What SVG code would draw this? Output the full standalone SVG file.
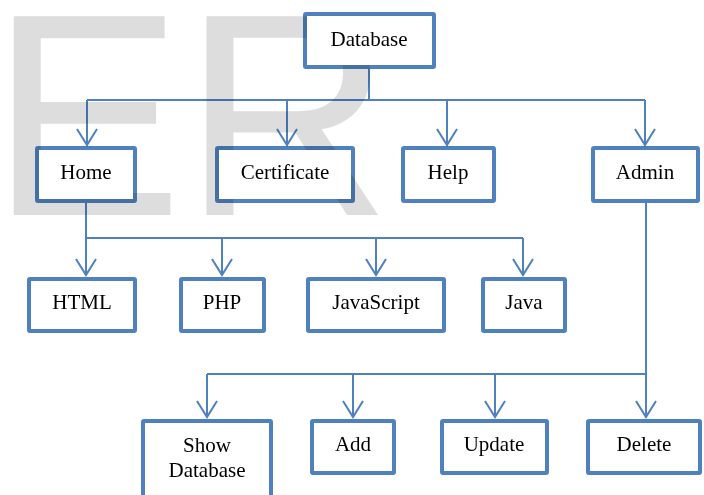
<svg xmlns="http://www.w3.org/2000/svg" width="704" height="495" viewBox="0 0 704 495">
  <defs>
    <style>
      .mark { font-family: "Liberation Sans", Arial, sans-serif; font-size: 289px; fill: #dddddd; }
      .wires { mix-blend-mode: multiply; }
      .wire { fill: none; stroke: #4f81bd; stroke-width: 2; }
      .face { fill: #ffffff; }
      .edge { fill: none; stroke: #4f81bd; stroke-width: 4; mix-blend-mode: multiply; }
      .label { font-family: "Liberation Serif", "Times New Roman", serif; font-size: 21px; fill: #000000; text-anchor: middle; }
    </style>
    <marker id="head" markerUnits="userSpaceOnUse" viewBox="-18 -12 20 24" markerWidth="20" markerHeight="24" refX="0" refY="0" orient="auto">
      <path d="M-16,-10 L0,0 L-16,10" fill="none" stroke="#4f81bd" stroke-width="2"/>
    </marker>
  </defs>

  <rect width="704" height="495" fill="#ffffff"/>

  <!-- background lettering -->
  <text class="mark" x="-10" y="215">ER</text>

  <!-- connectors -->
  <g id="connectors" class="wires">
    <path class="wire" d="M369 69 V100 M87 100 H645"/>
    <path class="wire" d="M87 100 V145" marker-end="url(#head)"/>
    <path class="wire" d="M287 100 V145" marker-end="url(#head)"/>
    <path class="wire" d="M447 100 V145" marker-end="url(#head)"/>
    <path class="wire" d="M645 100 V145" marker-end="url(#head)"/>

    <path class="wire" d="M86 203 V238 H523"/>
    <path class="wire" d="M86 238 V275" marker-end="url(#head)"/>
    <path class="wire" d="M222 238 V275" marker-end="url(#head)"/>
    <path class="wire" d="M376 238 V275" marker-end="url(#head)"/>
    <path class="wire" d="M523 238 V275" marker-end="url(#head)"/>

    <path class="wire" d="M646 203 V374 H207"/>
    <path class="wire" d="M207 374 V417" marker-end="url(#head)"/>
    <path class="wire" d="M353 374 V417" marker-end="url(#head)"/>
    <path class="wire" d="M495 374 V417" marker-end="url(#head)"/>
    <path class="wire" d="M646 374 V417" marker-end="url(#head)"/>
  </g>

  <!-- top -->
  <g id="database">
    <rect class="face" x="307" y="16" width="125" height="49"/>
    <rect class="edge" x="305" y="14" width="129" height="53" rx="1"/>
    <text class="label" x="369" y="46">Database</text>
  </g>

  <!-- first level -->
  <g id="home">
    <rect class="face" x="39" y="150" width="94" height="49"/>
    <rect class="edge" x="37" y="148" width="98" height="53" rx="1"/>
    <text class="label" x="86" y="179">Home</text>
  </g>
  <g id="certificate">
    <rect class="face" x="219" y="150" width="132" height="49"/>
    <rect class="edge" x="217" y="148" width="136" height="53" rx="1"/>
    <text class="label" x="285" y="179">Certificate</text>
  </g>
  <g id="help">
    <rect class="face" x="405" y="150" width="87" height="49"/>
    <rect class="edge" x="403" y="148" width="91" height="53" rx="1"/>
    <text class="label" x="448" y="179">Help</text>
  </g>
  <g id="admin">
    <rect class="face" x="595" y="150" width="101" height="49"/>
    <rect class="edge" x="593" y="148" width="105" height="53" rx="1"/>
    <text class="label" x="645" y="179">Admin</text>
  </g>

  <!-- second level -->
  <g id="html">
    <rect class="face" x="31" y="281" width="102" height="48"/>
    <rect class="edge" x="29" y="279" width="106" height="52" rx="1"/>
    <text class="label" x="82" y="309">HTML</text>
  </g>
  <g id="php">
    <rect class="face" x="183" y="281" width="79" height="48"/>
    <rect class="edge" x="181" y="279" width="83" height="52" rx="1"/>
    <text class="label" x="222" y="309">PHP</text>
  </g>
  <g id="javascript">
    <rect class="face" x="310" y="281" width="132" height="48"/>
    <rect class="edge" x="308" y="279" width="136" height="52" rx="1"/>
    <text class="label" x="376" y="309">JavaScript</text>
  </g>
  <g id="java">
    <rect class="face" x="485" y="281" width="78" height="48"/>
    <rect class="edge" x="483" y="279" width="82" height="52" rx="1"/>
    <text class="label" x="524" y="309">Java</text>
  </g>

  <!-- admin actions -->
  <g id="show-database">
    <rect class="face" x="145" y="423" width="124" height="76"/>
    <rect class="edge" x="143" y="421" width="128" height="80" rx="1"/>
    <text class="label" x="207" y="452">Show</text>
    <text class="label" x="207" y="477">Database</text>
  </g>
  <g id="add">
    <rect class="face" x="314" y="423" width="78" height="48"/>
    <rect class="edge" x="312" y="421" width="82" height="52" rx="1"/>
    <text class="label" x="353" y="451">Add</text>
  </g>
  <g id="update">
    <rect class="face" x="444" y="423" width="101" height="48"/>
    <rect class="edge" x="442" y="421" width="105" height="52" rx="1"/>
    <text class="label" x="494" y="451">Update</text>
  </g>
  <g id="delete">
    <rect class="face" x="590" y="423" width="108" height="48"/>
    <rect class="edge" x="588" y="421" width="112" height="52" rx="1"/>
    <text class="label" x="644" y="451">Delete</text>
  </g>
</svg>
